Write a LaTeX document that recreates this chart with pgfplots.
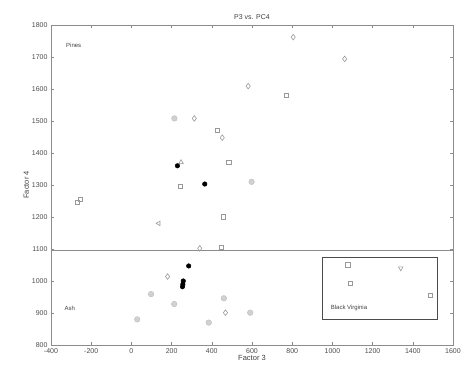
\documentclass[border=0pt]{standalone}
\usepackage{pgfplots}
\pgfplotsset{compat=1.18}
\usepackage{fontspec}
\setmainfont{Liberation Sans}
\definecolor{axgray}{gray}{0.55}
\definecolor{mkgray}{gray}{0.6}
\definecolor{fillgray}{gray}{0.82}
\begin{document}
\begin{tikzpicture}
\begin{axis}[
  name=ax,
  scale only axis,
  width=402pt, height=320pt,
  xmin=-400, xmax=1600, ymin=800, ymax=1800,
  xtick={-400,-200,...,1600},
  ytick={800,900,...,1800},
  tick align=inside,
  major tick length=3pt,
  axis line style={axgray, line width=0.6pt},
  tick style={axgray, line width=0.5pt},
  ticklabel style={font=\fontsize{7}{8}\selectfont, text=black!70},
  /pgf/number format/assume math mode=true,
  /pgf/number format/1000 sep={},
  title={P3 vs. PC4},
  title style={font=\fontsize{7}{8}\selectfont, text=black!75, yshift=-4pt},
  xlabel={Factor 3},
  ylabel={Factor 4},
  label style={font=\fontsize{7.5}{8}\selectfont, text=black!75},
  xlabel style={yshift=5pt},
  ylabel style={yshift=-4pt},
]
% separator line
\addplot[axgray, line width=0.8pt] coordinates {(-400,1095) (1600,1095)};
% open diamonds
\addplot[only marks, mark=diamond, mark size=2.8pt, mkgray, mark options={line width=0.6pt}] coordinates {
 (805,1762) (1061,1694) (581,1609) (313,1508) (452,1448) (340,1102) (180,1014) (468,901)};
% open triangles left
\addplot[only marks, mark=triangle, mark size=2.6pt, mkgray, mark options={rotate=90, line width=0.6pt}] coordinates {
 (136,1180)};
% open squares
\addplot[only marks, mark=square, mark size=2.2pt, mkgray, mark options={line width=0.6pt}] coordinates {
 (771,1581) (485,1370) (426,1470) (242,1295) (457,1201) (447,1105) (1089,993) (1487,956) (1077,1050) (-270,1245) (-255,1256)};
% open triangles
\addplot[only marks, mark=triangle, mark size=2.6pt, mkgray, mark options={line width=0.6pt}] coordinates {
 (247,1371)};
\addplot[only marks, mark=triangle, mark size=2.6pt, mkgray, mark options={rotate=180, line width=0.6pt}] coordinates {
 (1340,1040)};
% filled light gray circles
\addplot[only marks, mark=*, mark size=2.8pt, fillgray, mark options={draw=fillgray!90!black, fill=fillgray}] coordinates {
 (598,1310) (214,1508) (98,959) (213,928) (29,880) (385,870) (460,946) (591,901)};
% black
\addplot[only marks, mark=*, mark size=2.3pt, black] coordinates {
 (229,1360) (365,1303) (285,1047) (258,1000) (256,990) (254,982)};
% annotations
\draw[black!70, line width=0.5pt] (axis cs:950,1073) rectangle (axis cs:1520,880);
\node[font=\fontsize{6}{7}\selectfont, text=black!75] at (axis cs:-287,1737) {Pines};
\node[font=\fontsize{6}{7}\selectfont, text=black!75] at (axis cs:-307,916) {Ash};
\node[font=\fontsize{6}{7}\selectfont, text=black!75, anchor=west] at (axis cs:975,916) {Black Virginia};
\end{axis}
\pgfresetboundingbox
\path[use as bounding box] ([shift={(-51pt,-24pt)}]ax.south west) rectangle ([shift={(11pt,25pt)}]ax.north east);
\end{tikzpicture}
\end{document}
